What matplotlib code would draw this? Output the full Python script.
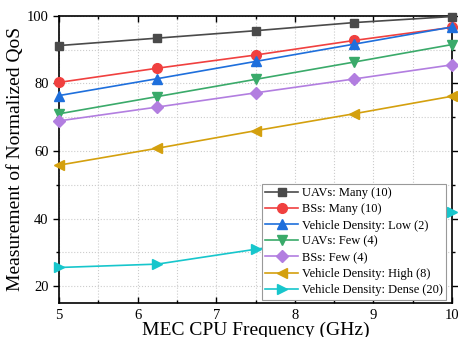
import numpy as np
import matplotlib
matplotlib.use("Agg")
import matplotlib.pyplot as plt
from matplotlib.ticker import MultipleLocator

plt.rcParams['font.family'] = ['Liberation Serif', 'DejaVu Serif']

freq = [5, 6.25, 7.5, 8.75, 10]

uavs_many = [91.2, 93.4, 95.6, 98.0, 99.8]
bss_many = [80.3, 84.5, 88.4, 92.7, 96.6]
veh_low = [76.4, 81.4, 86.5, 91.6, 96.7]
uavs_few = [71.0, 76.1, 81.2, 86.3, 91.5]
bss_few = [68.9, 73.0, 77.2, 81.3, 85.5]
veh_high = [55.8, 60.8, 66.0, 71.0, 76.2]
veh_dense = [25.5, 26.5, 30.9, 34.8, 41.9]

labels = ["UAVs: Many (10)", "BSs: Many (10)", "Vehicle Density: Low (2)",
          "UAVs: Few (4)", "BSs: Few (4)", "Vehicle Density: High (8)",
          "Vehicle Density: Dense (20)"]
series = [uavs_many, bss_many, veh_low, uavs_few, bss_few, veh_high, veh_dense]
colors = ["#4a4a4a", "#f0403f", "#1e6fdc", "#3aaa6a", "#b27ee0", "#d4a00e", "#17c6cc"]
markers = ["s", "o", "^", "v", "D", "<", ">"]
msizes = [6, 7, 7, 7, 6, 7, 7]

fig = plt.figure(figsize=(4.58, 3.37), dpi=100)
ax = fig.add_axes([0.129, 0.101, 0.858, 0.852])

for ys, lab, c, m, ms in zip(series, labels, colors, markers, msizes):
    ax.plot(freq, ys, color=c, marker=m, markersize=ms, linewidth=1.2,
            label=lab, clip_on=False, zorder=3)

ax.set_xlim(5, 10)
ax.set_ylim(15, 100)
ax.xaxis.set_major_locator(MultipleLocator(1))
ax.xaxis.set_minor_locator(MultipleLocator(0.5))
ax.yaxis.set_major_locator(MultipleLocator(20))
ax.yaxis.set_minor_locator(MultipleLocator(10))

ax.grid(True, which='both', color='#cccccc', linestyle=':', linewidth=0.8)
ax.tick_params(axis='both', which='both', labelsize=10.5, top=True, right=True)
ax.tick_params(axis='x', which='both', direction='in', pad=4)
ax.tick_params(axis='y', which='both', direction='out', left=True)
ax.tick_params(which='major', length=4, width=1)
ax.tick_params(which='minor', length=2, width=1)
for s in ax.spines.values():
    s.set_linewidth(1.2)

ax.set_xlabel("MEC CPU Frequency (GHz)", fontsize=14, labelpad=0)
ax.set_ylabel("Measurement of Normalized QoS", fontsize=14, labelpad=2)

leg = ax.legend(loc='lower right', fontsize=9.0, fancybox=False, framealpha=1,
                edgecolor='#999999', handlelength=2.6, labelspacing=0.33,
                borderpad=0.3, handletextpad=0.3, borderaxespad=0,
                bbox_to_anchor=(0.985, 0.011))
leg.get_frame().set_linewidth(0.8)

fig.savefig("out.png", dpi=100)
